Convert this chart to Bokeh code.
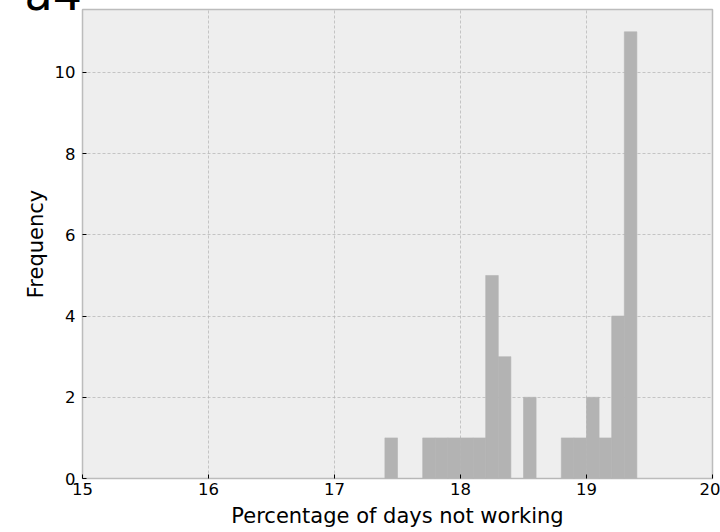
from bokeh.plotting import figure
from bokeh.models import Range1d, FixedTicker, ColumnDataSource
from bokeh.embed import file_html
from bokeh.resources import INLINE

# Histogram data (bin edges and counts)
bin_left = [17.4, 17.5, 17.6, 17.7, 17.8, 17.9, 18.0, 18.1, 18.2, 18.3,
            18.4, 18.5, 18.6, 18.7, 18.8, 18.9, 19.0, 19.1, 19.2, 19.3]
bin_right = [17.5, 17.6, 17.7, 17.8, 17.9, 18.0, 18.1, 18.2, 18.3, 18.4,
             18.5, 18.6, 18.7, 18.8, 18.9, 19.0, 19.1, 19.2, 19.3, 19.4]
counts = [1, 0, 0, 1, 1, 1, 1, 1, 5, 3,
          0, 2, 0, 0, 1, 1, 2, 1, 4, 11]
x_ticks = [15, 16, 17, 18, 19, 20]
y_ticks = [0, 2, 4, 6, 8, 10]
title_text = "a4"
x_label = "Percentage of days not working"
y_label = "Frequency"

FONT = "DejaVu Sans"

p = figure(width=720, height=532, output_backend="svg", toolbar_location=None,
           x_range=Range1d(15, 20), y_range=Range1d(0, 11.55),
           frame_width=630, frame_height=469,
           min_border_left=82, min_border_right=8, min_border_top=9, min_border_bottom=54)

src = ColumnDataSource(dict(left=bin_left, right=bin_right, top=counts,
                            bottom=[0] * len(counts)))
p.quad(left="left", right="right", top="top", bottom="bottom", source=src,
       fill_color="#b3b3b3", line_color="#b3b3b3", line_width=0.6)

p.background_fill_color = "#eeeeee"
p.border_fill_color = "white"
p.outline_line_color = "#bcbcbc"
p.outline_line_width = 1.5

for ax in (p.xaxis[0], p.yaxis[0]):
    ax.axis_line_color = None
    ax.major_tick_in = 4
    ax.major_tick_out = 0
    ax.major_tick_line_color = "black"
    ax.minor_tick_line_color = None
    ax.major_label_text_font = FONT
    ax.major_label_text_font_size = "16.5px"
    ax.major_label_text_color = "black"
    ax.axis_label_text_font = FONT
    ax.axis_label_text_font_size = "21px"
    ax.axis_label_text_font_style = "normal"
    ax.axis_label_text_color = "black"

p.xaxis.ticker = FixedTicker(ticks=x_ticks)
p.yaxis.ticker = FixedTicker(ticks=y_ticks)
p.xaxis.axis_label = x_label
p.yaxis.axis_label = y_label
p.xaxis.major_label_standoff = 4
p.yaxis.major_label_standoff = 7
p.xaxis.axis_label_standoff = 6
p.yaxis.axis_label_standoff = 4

for g in (p.xgrid[0], p.ygrid[0]):
    g.grid_line_color = "#b2b2b2"
    g.grid_line_dash = "3 2"
    g.grid_line_width = 0.7

# Title "a4", partly above the top edge as in the reference
p.title.text = title_text
p.title.text_font = FONT
p.title.text_font_size = "46px"
p.title.text_font_style = "normal"
p.title.text_color = "black"
p.title.align = "left"
p.title.vertical_align = "top"
p.title.offset = -58
p.title.standoff = -86

open("out.html", "w").write(file_html(p, INLINE))
